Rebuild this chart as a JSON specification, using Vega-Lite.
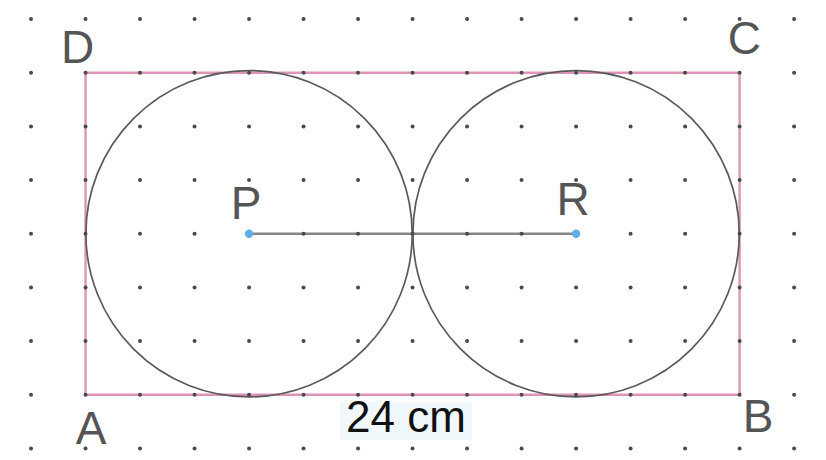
{
  "$schema": "https://vega.github.io/schema/vega-lite/v6.json",
  "width": 826,
  "height": 460,
  "autosize": {"type": "none"},
  "padding": 0,
  "background": "white",
  "config": {"view": {"stroke": null}},
  "encoding": {
    "x": {"field": "x", "type": "quantitative", "scale": {"domain": [-3.138, 27.17], "nice": false, "zero": false}, "axis": null},
    "y": {"field": "y", "type": "quantitative", "scale": {"domain": [-2.433, 14.712], "nice": false, "zero": false}, "axis": null}
  },
  "layer": [
    {
      "data": {"values": [{"x": 9.34, "y": -0.27, "x2": 14.18, "y2": -1.69}]},
      "mark": {"type": "rect", "fill": "#f0f8fc"},
      "encoding": {"x2": {"field": "x2"}, "y2": {"field": "y2"}}
    },
    {
      "data": {"values": [{"x": 0, "y": 0, "x2": 24, "y2": 12}]},
      "mark": {"type": "rect", "fill": null, "stroke": "#de94b8", "strokeWidth": 2.4},
      "encoding": {"x2": {"field": "x2"}, "y2": {"field": "y2"}}
    },
    {
      "data": {"values": [{"name": "P", "x": 6, "y": 6}, {"name": "R", "x": 18, "y": 6}]},
      "mark": {"type": "point", "shape": "circle", "filled": false, "size": 106500, "stroke": "#5a5a5a", "strokeWidth": 1.7, "opacity": 1}
    },
    {
      "data": {"values": [{"x": 6, "y": 6}, {"x": 18, "y": 6}]},
      "mark": {"type": "line", "color": "#858585", "strokeWidth": 2.5},
      "encoding": {}
    },
    {
      "data": {"values": [
        {"x": -2, "y": -2}, {"x": 0, "y": -2}, {"x": 2, "y": -2}, {"x": 4, "y": -2}, {"x": 6, "y": -2}, {"x": 8, "y": -2}, {"x": 10, "y": -2}, {"x": 12, "y": -2}, {"x": 14, "y": -2}, {"x": 16, "y": -2}, {"x": 18, "y": -2}, {"x": 20, "y": -2}, {"x": 22, "y": -2}, {"x": 24, "y": -2}, {"x": 26, "y": -2},
        {"x": -2, "y": 0}, {"x": 0, "y": 0}, {"x": 2, "y": 0}, {"x": 4, "y": 0}, {"x": 6, "y": 0}, {"x": 8, "y": 0}, {"x": 10, "y": 0}, {"x": 12, "y": 0}, {"x": 14, "y": 0}, {"x": 16, "y": 0}, {"x": 18, "y": 0}, {"x": 20, "y": 0}, {"x": 22, "y": 0}, {"x": 24, "y": 0}, {"x": 26, "y": 0},
        {"x": -2, "y": 2}, {"x": 0, "y": 2}, {"x": 2, "y": 2}, {"x": 4, "y": 2}, {"x": 6, "y": 2}, {"x": 8, "y": 2}, {"x": 10, "y": 2}, {"x": 12, "y": 2}, {"x": 14, "y": 2}, {"x": 16, "y": 2}, {"x": 18, "y": 2}, {"x": 20, "y": 2}, {"x": 22, "y": 2}, {"x": 24, "y": 2}, {"x": 26, "y": 2},
        {"x": -2, "y": 4}, {"x": 0, "y": 4}, {"x": 2, "y": 4}, {"x": 4, "y": 4}, {"x": 6, "y": 4}, {"x": 8, "y": 4}, {"x": 10, "y": 4}, {"x": 12, "y": 4}, {"x": 14, "y": 4}, {"x": 16, "y": 4}, {"x": 18, "y": 4}, {"x": 20, "y": 4}, {"x": 22, "y": 4}, {"x": 24, "y": 4}, {"x": 26, "y": 4},
        {"x": -2, "y": 6}, {"x": 0, "y": 6}, {"x": 2, "y": 6}, {"x": 4, "y": 6}, {"x": 8, "y": 6}, {"x": 10, "y": 6}, {"x": 12, "y": 6}, {"x": 14, "y": 6}, {"x": 16, "y": 6}, {"x": 20, "y": 6}, {"x": 22, "y": 6}, {"x": 24, "y": 6}, {"x": 26, "y": 6},
        {"x": -2, "y": 8}, {"x": 0, "y": 8}, {"x": 2, "y": 8}, {"x": 4, "y": 8}, {"x": 6, "y": 8}, {"x": 8, "y": 8}, {"x": 10, "y": 8}, {"x": 12, "y": 8}, {"x": 14, "y": 8}, {"x": 16, "y": 8}, {"x": 18, "y": 8}, {"x": 20, "y": 8}, {"x": 22, "y": 8}, {"x": 24, "y": 8}, {"x": 26, "y": 8},
        {"x": -2, "y": 10}, {"x": 0, "y": 10}, {"x": 2, "y": 10}, {"x": 4, "y": 10}, {"x": 6, "y": 10}, {"x": 8, "y": 10}, {"x": 10, "y": 10}, {"x": 12, "y": 10}, {"x": 14, "y": 10}, {"x": 16, "y": 10}, {"x": 18, "y": 10}, {"x": 20, "y": 10}, {"x": 22, "y": 10}, {"x": 24, "y": 10}, {"x": 26, "y": 10},
        {"x": -2, "y": 12}, {"x": 0, "y": 12}, {"x": 2, "y": 12}, {"x": 4, "y": 12}, {"x": 6, "y": 12}, {"x": 8, "y": 12}, {"x": 10, "y": 12}, {"x": 12, "y": 12}, {"x": 14, "y": 12}, {"x": 16, "y": 12}, {"x": 18, "y": 12}, {"x": 20, "y": 12}, {"x": 22, "y": 12}, {"x": 24, "y": 12}, {"x": 26, "y": 12},
        {"x": -2, "y": 14}, {"x": 0, "y": 14}, {"x": 2, "y": 14}, {"x": 4, "y": 14}, {"x": 6, "y": 14}, {"x": 8, "y": 14}, {"x": 10, "y": 14}, {"x": 12, "y": 14}, {"x": 14, "y": 14}, {"x": 16, "y": 14}, {"x": 18, "y": 14}, {"x": 20, "y": 14}, {"x": 22, "y": 14}, {"x": 24, "y": 14}, {"x": 26, "y": 14}
      ]},
      "mark": {"type": "point", "shape": "circle", "filled": true, "size": 16, "color": "#4a4a4a", "opacity": 1}
    },
    {
      "data": {"values": [{"x": 6, "y": 6}, {"x": 18, "y": 6}]},
      "mark": {"type": "point", "shape": "circle", "filled": true, "size": 70, "color": "#5cb0e6", "opacity": 1}
    },
    {
      "data": {"values": [
        {"label": "D", "x": -0.29, "y": 12.88},
        {"label": "C", "x": 24.17, "y": 13.22},
        {"label": "A", "x": 0.2, "y": -1.31},
        {"label": "B", "x": 24.68, "y": -0.87},
        {"label": "P", "x": 5.89, "y": 7.07},
        {"label": "R", "x": 17.89, "y": 7.22}
      ]},
      "mark": {"type": "text", "font": "Liberation Sans", "fontSize": 46, "color": "#555555", "align": "center", "baseline": "middle"},
      "encoding": {"text": {"field": "label"}}
    },
    {
      "data": {"values": [{"label": "24 cm", "x": 11.76, "y": -0.9}]},
      "mark": {"type": "text", "font": "Liberation Sans", "fontSize": 44, "color": "#111111", "align": "center", "baseline": "middle"},
      "encoding": {"text": {"field": "label"}}
    }
  ]
}
